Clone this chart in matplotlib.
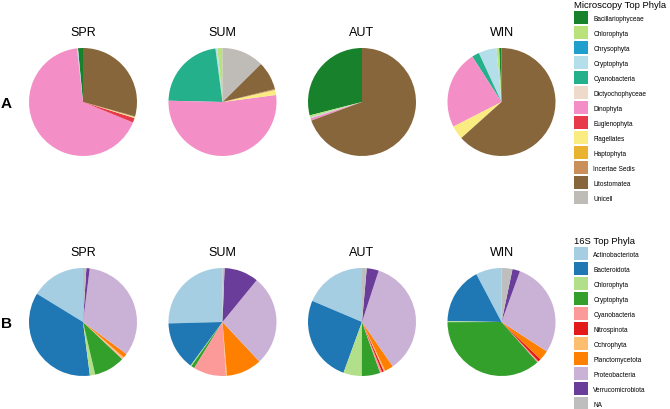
import matplotlib
matplotlib.use('Agg')
import matplotlib.pyplot as plt
from matplotlib.patches import Patch

plt.rcParams['font.family'] = ['Liberation Sans', 'DejaVu Sans']

seasons = ['SPR', 'SUM', 'AUT', 'WIN']

# microscopy phyla (legend order)
micro_names = ['Bacillariophyceae', 'Chlorophyta', 'Chrysophyta', 'Cryptophyta',
               'Cyanobacteria', 'Dictyochophyceae', 'Dinophyta', 'Euglenophyta',
               'Flagellates', 'Haptophyta', 'Incertae Sedis', 'Litostomatea', 'Unicell']
micro_colors = ['#17822b', '#b9e37a', '#1f9fcb', '#b4dfea', '#24b08a', '#eedacb',
                '#f38fc6', '#e8394a', '#faec80', '#e9b22f', '#c99159', '#87663b', '#bfbcb7']
micro_spr = [1.5, 0, 0, 0.3, 0, 0, 67.0, 1.4, 0.3, 0, 0.2, 29.3, 0]
micro_sum = [0, 1.5, 0, 0.6, 22.4, 0, 52.2, 0, 1.5, 0, 0.3, 8.5, 12.5]
micro_aut = [29.0, 0.6, 0, 0.3, 0, 0, 0.7, 0, 0, 0, 0, 69.4, 0]
micro_win = [0.7, 0.8, 0, 5.4, 2.2, 0, 23.4, 0, 4.1, 0, 0, 63.3, 0]

# 16S phyla (legend order)
s16_names = ['Actinobacteriota', 'Bacteroidota', 'Chlorophyta', 'Cryptophyta',
             'Cyanobacteria', 'Nitrospinota', 'Ochrophyta', 'Planctomycetota',
             'Proteobacteria', 'Verrucomicrobiota', 'NA']
s16_colors = ['#a6cee3', '#1f78b4', '#b2df8a', '#33a02c', '#fb9a99', '#e31a1c',
              '#fdbf6f', '#ff7f00', '#cab2d6', '#6a3d9a', '#bebebe']
s16_spr = [16.3, 35.9, 1.6, 9.3, 0.3, 0, 0.4, 1.3, 33.2, 1.0, 1.0]
s16_sum = [25.4, 14.5, 0.3, 1.0, 9.8, 0, 0.3, 10.6, 27.1, 10.3, 0.6]
s16_aut = [18.6, 25.8, 5.5, 5.5, 0.6, 0.6, 0.4, 2.6, 35.3, 3.6, 1.4]
s16_win = [7.8, 17.2, 0.3, 36.9, 0.4, 0.9, 0, 3.0, 28.9, 2.3, 3.3]

W, H = 670, 410
fig = plt.figure(figsize=(W / 100, H / 100), dpi=100)

xc = [83, 222.5, 362, 501.5]
rows = [(103, [micro_spr, micro_sum, micro_aut, micro_win], micro_colors, 'A'),
        (323, [s16_spr, s16_sum, s16_aut, s16_win], s16_colors, 'B')]
r = 54

for yc, data, cols, lab in rows:
    for cx, vals, s in zip(xc, data, seasons):
        ax = fig.add_axes([(cx - r) / W, (H - yc - r) / H, 2 * r / W, 2 * r / H])
        ax.pie(vals, colors=cols, startangle=90, counterclock=True,
               wedgeprops=dict(linewidth=0))
        ax.set_xlim(-1, 1)
        ax.set_ylim(-1, 1)
        ax.axis('off')
        ax.text(0.5, 1.0 + 16 / (2 * r), s, transform=ax.transAxes,
                ha='center', va='center', fontsize=9)
    fig.text(6.5 / W, 1 - (yc + 1.5) / H, lab, ha='center', va='center',
             fontsize=11, fontweight='bold')

# legend key boxes: 14 x 13 px, row pitch ~14.9 px
fs = 4.7
fpx = fs * 100 / 72
hh = (13 / fpx - 0.245) / 0.65
for names, cols, title, ytop in [(micro_names, micro_colors, 'Microscopy Top Phyla', 0),
                                 (s16_names, s16_colors, '16S Top Phyla', 236)]:
    handles = [Patch(facecolor=c, edgecolor='none') for c in cols]
    leg = fig.legend(handles, names, loc='upper left',
                     bbox_to_anchor=(573 / W, 1 - ytop / H), frameon=False,
                     fontsize=fs, title=title, title_fontsize=6.8,
                     handlelength=14 / fpx, handleheight=hh,
                     labelspacing=2.0 / fpx, handletextpad=5 / fpx,
                     borderpad=0.2, borderaxespad=0, alignment='left')

fig.savefig('out.png', dpi=100)
